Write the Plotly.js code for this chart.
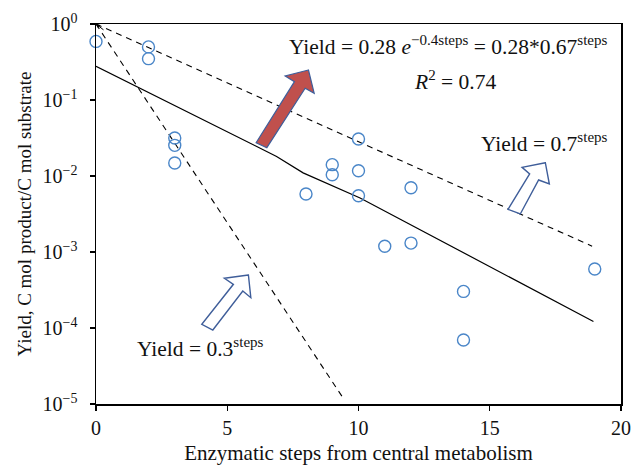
<!DOCTYPE html>
<html>
<head>
<meta charset="utf-8">
<script src="https://cdn.plot.ly/plotly-3.0.1.min.js"></script>
<style>html,body{margin:0;padding:0;background:#fff;}#chart{width:632px;height:468px;}</style>
</head>
<body>
<div id="chart"></div>
<script>
// Observed data: enzymatic steps vs yield
const steps = [0, 2, 2, 3, 3, 3, 8, 9, 9, 10, 10, 10, 11, 12, 12, 14, 14, 19];
const yields = [0.59, 0.50, 0.35, 0.0316, 0.0253, 0.0148, 0.0058, 0.0141, 0.0104, 0.0307, 0.0117, 0.0055, 0.00119, 0.0070, 0.00131, 0.000303, 0.0000695, 0.000597];

// Fitted trend line
const fitSteps = [0, 3.07, 4.59, 6.88, 7.89, 8.91, 10.06, 18.95];
const fitYields = [0.277, 0.0824, 0.045, 0.0181, 0.011, 0.00769, 0.00513, 0.000122];

// Reference lines
const line07Steps = [0, 18.9];
const line07Yields = [1, 0.00119];
const line03Steps = [0, 9.47];
const line03Yields = [1, 0.0000112];

// Axis ticks
const yTickVals = [1, 0.1, 0.01, 0.001, 0.0001, 0.00001];
const yTickText = ['10<sup>0</sup>', '10<sup>\u22121</sup>', '10<sup>\u22122</sup>', '10<sup>\u22123</sup>', '10<sup>\u22124</sup>', '10<sup>\u22125</sup>'];
const xTickVals = [0, 5, 10, 15, 20];

const FONT = 'Liberation Serif, Times New Roman, serif';
const ML = 96, MT = 24, PW = 524.6, PH = 380;
function px(X){ return (X - ML) / PW; }
function py(Y){ return (MT + PH - Y) / PH; }
function arrowPath(pts){
  return 'M ' + pts.map(p => px(p[0]).toFixed(4) + ' ' + py(p[1]).toFixed(4)).join(' L ') + ' Z';
}
const redArrow = [[308.3,70],[285,76],[294.3,81.7],[256,142.7],[266.7,147.7],[305,88.3],[314,93.3]];
const arrow07 = [[545,162.7],[521.7,167.3],[529.3,174],[507.7,209.3],[520,214],[538.3,180],[549,184]];
const arrow03 = [[248.3,275],[224.3,278.3],[233.3,284.3],[201.7,324.3],[212.7,330],[242.7,291],[250.7,297.7]];

const traces = [
  {x: line07Steps, y: line07Yields, mode: 'lines', line: {color: '#000', width: 1.1, dash: '6px,5px'}, hoverinfo: 'skip'},
  {x: line03Steps, y: line03Yields, mode: 'lines', line: {color: '#000', width: 1.1, dash: '6px,5px'}, hoverinfo: 'skip'},
  {x: fitSteps, y: fitYields, mode: 'lines', line: {color: '#000', width: 1.2}, hoverinfo: 'skip'},
  {x: steps, y: yields, mode: 'markers', cliponaxis: false,
   marker: {symbol: 'circle-open', size: 12, color: '#4A86C8', line: {width: 1.4, color: '#4A86C8'}}}
];

const layout = {
  width: 632, height: 468,
  margin: {l: ML, r: 632 - ML - PW, t: MT, b: 468 - MT - PH},
  paper_bgcolor: '#fff', plot_bgcolor: '#fff',
  showlegend: false,
  font: {family: FONT, color: '#111', size: 20},
  xaxis: {
    range: [0, 20], tickvals: xTickVals, ticks: 'outside', ticklen: 5, tickwidth: 1.3, tickcolor: '#000',
    showline: true, linecolor: '#000', linewidth: 1.5, mirror: true, showgrid: false, zeroline: false,
    tickfont: {family: FONT, size: 20, color: '#111'},
    title: {text: 'Enzymatic steps from central metabolism', font: {family: FONT, size: 21, color: '#111'}, standoff: 8}
  },
  yaxis: {
    type: 'log', range: [-5, 0], tickvals: yTickVals, ticktext: yTickText, ticks: 'outside', ticklen: 5, tickwidth: 1.3, tickcolor: '#000',
    ticklabelstandoff: 8,
    showline: true, linecolor: '#000', linewidth: 1.5, mirror: true, showgrid: false, zeroline: false,
    tickfont: {family: FONT, size: 20, color: '#111'},
    title: {text: 'Yield, C mol product/C mol substrate', font: {family: FONT, size: 19, color: '#111'}, standoff: 6}
  },
  shapes: [
    {type: 'path', xref: 'paper', yref: 'paper', path: arrowPath(redArrow), fillcolor: '#C0504D', line: {color: '#3F5E9A', width: 1.2}},
    {type: 'path', xref: 'paper', yref: 'paper', path: arrowPath(arrow07), fillcolor: '#fff', line: {color: '#3F5E9A', width: 1.4}},
    {type: 'path', xref: 'paper', yref: 'paper', path: arrowPath(arrow03), fillcolor: '#fff', line: {color: '#3F5E9A', width: 1.4}}
  ],
  annotations: [
    {xref: 'paper', yref: 'paper', x: px(448.5), y: py(46), showarrow: false, xanchor: 'center', yanchor: 'middle',
     text: 'Yield = 0.28 <i>e</i><sup>\u22120.4steps</sup> = 0.28*0.67<sup>steps</sup>', font: {family: FONT, size: 21.5, color: '#111'}},
    {xref: 'paper', yref: 'paper', x: px(455), y: py(80), showarrow: false, xanchor: 'center', yanchor: 'middle',
     text: '<i>R</i><sup>2</sup> = 0.74', font: {family: FONT, size: 21.5, color: '#111'}},
    {xref: 'paper', yref: 'paper', x: px(544), y: py(142), showarrow: false, xanchor: 'center', yanchor: 'middle',
     text: 'Yield = 0.7<sup>steps</sup>', font: {family: FONT, size: 21.5, color: '#111'}},
    {xref: 'paper', yref: 'paper', x: px(200), y: py(347), showarrow: false, xanchor: 'center', yanchor: 'middle',
     text: 'Yield = 0.3<sup>steps</sup>', font: {family: FONT, size: 21.5, color: '#111'}},
    {xref: 'x', yref: 'y', x: 0, y: 0, ax: 9, ay: 7, showarrow: true, arrowhead: 2, arrowsize: 0.8, arrowwidth: 1, arrowcolor: '#000', text: ''}
  ]
};

Plotly.newPlot('chart', traces, layout, {displayModeBar: false, staticPlot: true});
</script>
</body>
</html>
